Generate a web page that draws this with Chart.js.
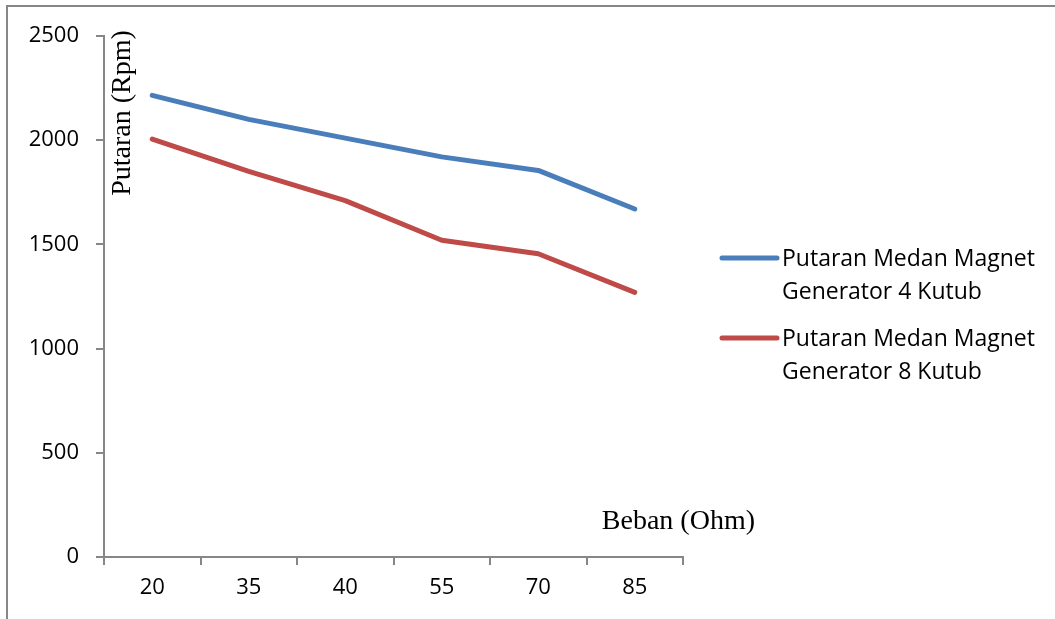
<!DOCTYPE html>
<html>
<head>
<meta charset="utf-8">
<script src="https://cdn.jsdelivr.net/npm/chart.js@4.4.0/dist/chart.umd.min.js"></script>
<style>
  html, body { margin: 0; padding: 0; background: #fff; }
  canvas { display: block; }
</style>
</head>
<body>
<canvas id="chart" width="1055" height="619"></canvas>
<script>
// Beban (Ohm) categories
const categories = ['20', '35', '40', '55', '70', '85'];
// Putaran (Rpm) per generator
const kutub4 = [2215, 2100, 2010, 1920, 1855, 1670];
const kutub8 = [2005, 1850, 1710, 1520, 1455, 1270];
const seriesNames = [
  ['Putaran Medan Magnet', 'Generator 4 Kutub'],
  ['Putaran Medan Magnet', 'Generator 8 Kutub']
];
const yMin = 0, yMax = 2500, yStep = 500;
const xTitle = 'Beban (Ohm)';
const yTitle = 'Putaran (Rpm)';

const AXIS_GRAY = '#878787';
const TICK_FONT = { family: '"Open Sans"', size: 22 };
const TITLE_FONT = '28px "Liberation Serif"';
const LEGEND_FONT = '23px "Open Sans"';

const framePlugin = {
  id: 'frame',
  beforeDraw(chart) {
    const ctx = chart.ctx;
    ctx.save();
    ctx.fillStyle = '#fff';
    ctx.fillRect(0, 0, chart.width, chart.height);
    ctx.strokeStyle = AXIS_GRAY;
    ctx.lineWidth = 2;
    ctx.beginPath();
    ctx.moveTo(7, chart.height);
    ctx.lineTo(7, 6);
    ctx.lineTo(chart.width, 6);
    ctx.stroke();
    ctx.restore();
  }
};

const titlesPlugin = {
  id: 'titles',
  afterDraw(chart) {
    const ctx = chart.ctx;
    const area = chart.chartArea;
    ctx.save();
    ctx.fillStyle = '#000';
    ctx.font = TITLE_FONT;
    // x-axis title sits inside the plot, lower right
    ctx.textAlign = 'right';
    ctx.textBaseline = 'alphabetic';
    ctx.fillText(xTitle, area.right + 72, area.bottom - 28);
    // y-axis title, rotated, just right of the axis
    ctx.translate(area.left + 19, area.top + 77);
    ctx.rotate(-Math.PI / 2);
    ctx.textAlign = 'center';
    ctx.textBaseline = 'middle';
    ctx.fillText(yTitle, 0, 0);
    ctx.restore();
  }
};

const legendPlugin = {
  id: 'sideLegend',
  afterDraw(chart) {
    const ctx = chart.ctx;
    const area = chart.chartArea;
    const x0 = area.right + 39;
    const x1 = area.right + 94;
    const tx = area.right + 99;
    const rows = [258, 338];
    ctx.save();
    ctx.font = LEGEND_FONT;
    ctx.textAlign = 'left';
    ctx.textBaseline = 'middle';
    chart.data.datasets.forEach((ds, i) => {
      const y = rows[i];
      ctx.strokeStyle = ds.borderColor;
      ctx.lineWidth = 5;
      ctx.lineCap = 'round';
      ctx.beginPath();
      ctx.moveTo(x0, y);
      ctx.lineTo(x1, y);
      ctx.stroke();
      ctx.fillStyle = '#000';
      ds.legendLines.forEach((line, j) => {
        ctx.fillText(line, tx, y + 1 + j * 33);
      });
    });
    ctx.restore();
  }
};

new Chart(document.getElementById('chart'), {
  type: 'line',
  data: {
    labels: categories,
    datasets: [
      {
        label: seriesNames[0].join(' '),
        legendLines: seriesNames[0],
        data: kutub4,
        borderColor: '#4A7EBB',
        borderWidth: 5,
        pointRadius: 0,
        tension: 0,
        borderCapStyle: 'round',
        borderJoinStyle: 'round'
      },
      {
        label: seriesNames[1].join(' '),
        legendLines: seriesNames[1],
        data: kutub8,
        borderColor: '#BE4B48',
        borderWidth: 5,
        pointRadius: 0,
        tension: 0,
        borderCapStyle: 'round',
        borderJoinStyle: 'round'
      }
    ]
  },
  options: {
    responsive: false,
    animation: false,
    devicePixelRatio: 1,
    layout: { padding: { top: 36, right: 372, bottom: 0, left: 0 } },
    plugins: {
      legend: { display: false },
      tooltip: { enabled: false }
    },
    scales: {
      x: {
        type: 'category',
        offset: true,
        grid: {
          offset: true,
          drawOnChartArea: false,
          drawTicks: true,
          tickLength: 8,
          color: AXIS_GRAY,
          lineWidth: 2
        },
        border: { color: AXIS_GRAY, width: 2 },
        ticks: { font: TICK_FONT, color: '#000', padding: 10, maxRotation: 0 },
        afterFit(scale) { scale.height = 62; }
      },
      y: {
        min: yMin,
        max: yMax,
        grid: {
          drawOnChartArea: false,
          drawTicks: true,
          tickLength: 8,
          color: AXIS_GRAY,
          lineWidth: 2
        },
        border: { color: AXIS_GRAY, width: 2 },
        ticks: {
          stepSize: yStep,
          font: TICK_FONT,
          color: '#000',
          padding: 17,
          callback: (v) => String(v)
        },
        afterFit(scale) { scale.width = 104; }
      }
    }
  },
  plugins: [framePlugin, titlesPlugin, legendPlugin]
});
</script>
</body>
</html>
